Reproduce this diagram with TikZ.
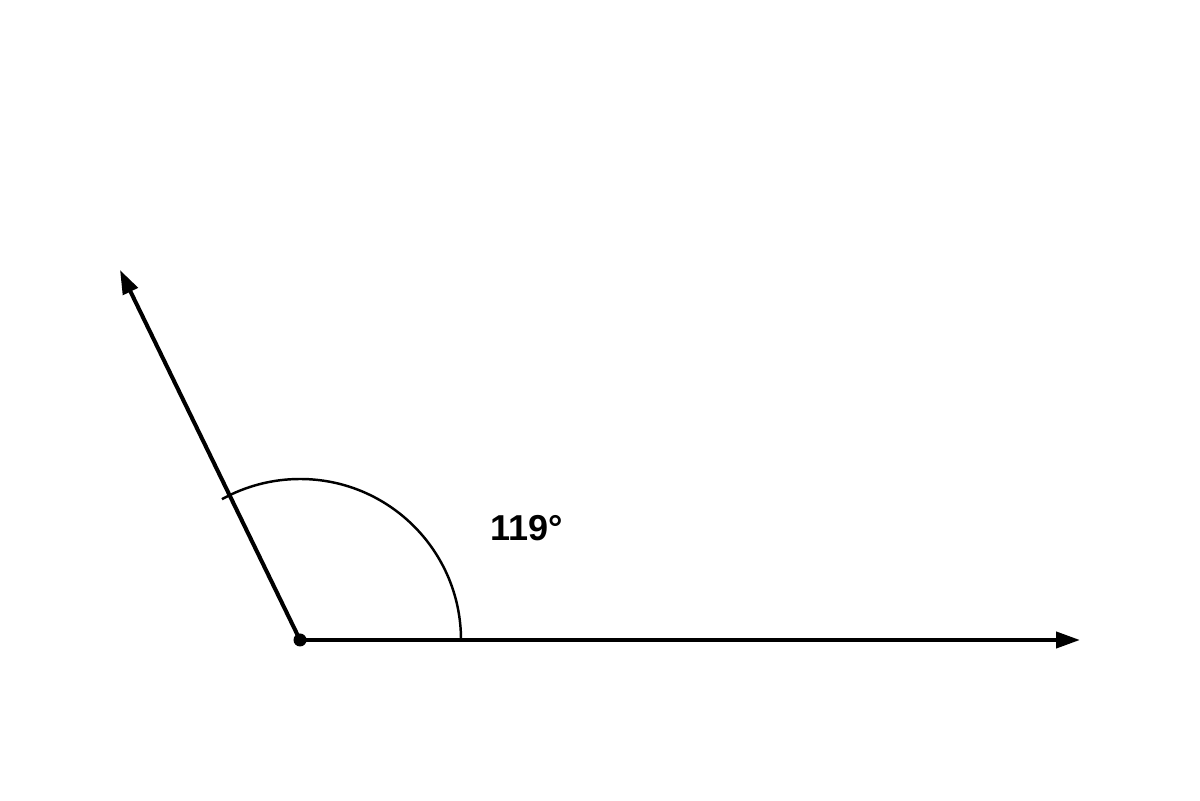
\documentclass[tikz,border=0pt]{standalone}
\usepackage{fontspec}
\setmainfont{Liberation Sans}
\usetikzlibrary{arrows.meta}

\begin{document}
\begin{tikzpicture}[>={Triangle[length=0.48cm, width=0.32cm]}]
    \useasboundingbox (0,0) rectangle (24,16);
    \coordinate (vertex) at (6,3.2);
    \coordinate (rayA) at (21.6,3.2);
    \coordinate (rayB) at (2.4,10.6);
    \draw[->, line width=2.3pt] (vertex) -- (rayA);
    \draw[->, line width=2.3pt] (vertex) -- (rayB);
    \draw[line width=1.4pt] ([xshift=3.22cm]vertex) arc[start angle=0, end angle=119, radius=3.22cm];
    \fill (vertex) circle (0.13);
    \node[font=\fontsize{20.5}{24}\selectfont\bfseries] (angle) at (10.54,5.44) {119°};
\end{tikzpicture}
\end{document}
